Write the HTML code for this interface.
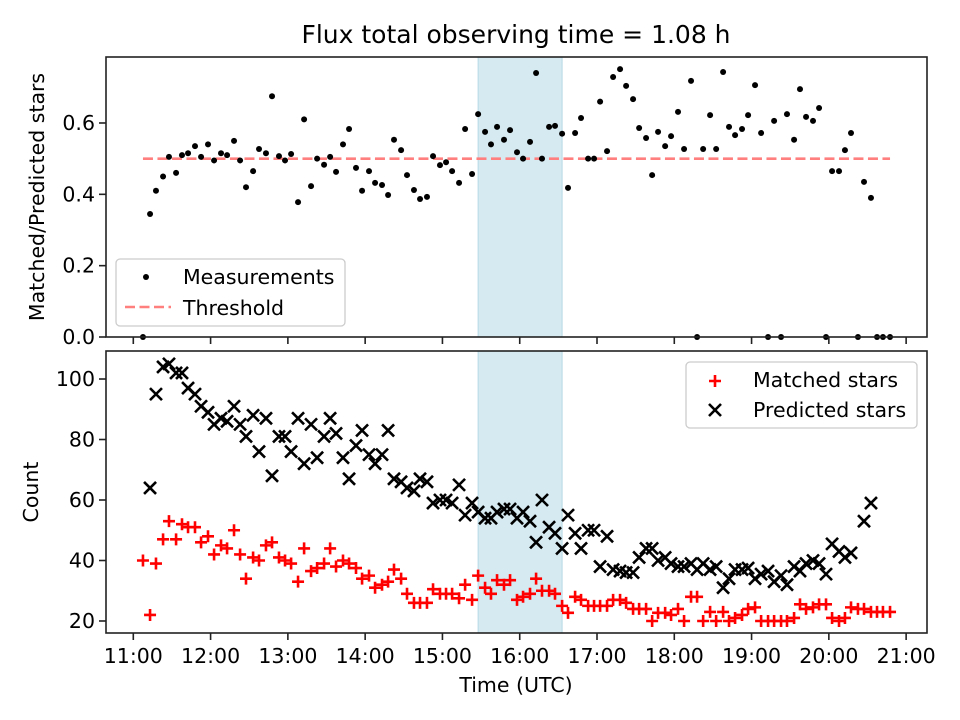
<!DOCTYPE html>
<html><head><meta charset="utf-8"><style>
body{margin:0;background:#fff}
svg{display:block;font-family:"DejaVu Sans","Liberation Sans",sans-serif}
</style></head><body>
<svg id="fig" width="960" height="720" viewBox="0 0 960 720">
<rect width="960" height="720" fill="#fff"/>
<text x="516" y="43" font-size="25" text-anchor="middle">Flux total observing time = 1.08 h</text>
<g id="topPanel"></g>
<g id="botPanel"></g>
<text x="516" y="692" font-size="20.5" text-anchor="middle">Time (UTC)</text>
<text transform="translate(44,197) rotate(-90)" font-size="20.5" text-anchor="middle">Matched/Predicted stars</text>
<text transform="translate(38,492) rotate(-90)" font-size="20.5" text-anchor="middle">Count</text>
</svg>
<script>
// minutes after 11:00 UTC
const times=[7.5,13.0,17.6,23.1,27.7,33.2,37.8,42.5,47.9,52.6,58.0,62.7,68.1,72.8,78.2,82.9,87.5,93.0,97.6,103.0,107.7,113.1,117.8,122.5,127.9,132.6,138.0,142.7,148.1,152.8,157.4,162.8,167.5,172.9,177.6,183.0,187.7,193.1,197.8,202.4,207.9,212.5,217.9,222.6,228.0,232.7,238.1,242.8,247.5,252.9,257.6,263.0,267.7,273.1,277.7,282.4,287.8,292.5,297.9,302.6,308.0,312.7,317.3,322.8,327.4,332.9,337.5,343.0,347.6,353.1,357.7,362.4,367.8,372.5,377.9,382.6,388.0,392.7,398.1,402.8,407.4,412.9,417.5,422.9,427.6,433.0,437.7,442.4,447.8,452.5,457.9,462.5,467.2,472.6,477.3,482.7,487.4,492.8,497.5,502.9,507.5,513.0,517.6,522.3,527.7,532.4,537.8,542.5,547.9,552.5,557.2,562.6,567.3,572.7,577.4,582.0,587.5];
const ratio=[0,.345,.41,.45,.505,.46,.51,.515,.535,.505,.54,.495,.515,.51,.55,.495,.42,.465,.527,.515,.675,.507,.495,.513,.378,.61,.423,.5,.483,.505,.463,.54,.583,.474,.41,.465,.432,.426,.398,.553,.524,.454,.412,.387,.393,.507,.482,.49,.465,.432,.583,.457,.625,.575,.54,.589,.553,.58,.518,.5,.547,.74,.5,.589,.592,.57,.418,.572,.614,.5,.5,.66,.521,.729,.751,.704,.667,.586,.558,.454,.575,.535,.563,.631,.527,.718,0,.527,.622,.527,.743,.589,.566,.583,.622,.706,.572,0,.606,0,.625,.553,.695,.617,.606,.642,0,.465,.465,.524,.572,0,.435,.39,0,0,0];
const matched=[40,22,39,47,53,47,52,51,51,46,48,42,45,44,50,42,34,41,40,45,46,41,40,39,33,44,36.5,37.5,39,44,38,40,39,37.5,34,35,31,32,33,37,34,29,26,26,26,30.5,29,29,29,27.5,32,27,35,31,29,33.5,32,33.5,27,28,29,34,30,30,29,25,22.7,28,27,25,25,25,25,27,27,26,24,24,24,20,22.7,22.7,22,24,20,28,28,20,23,20,23,20,21,22,24,24.5,20,20,20,20,20,21,25.5,24,24.5,25.5,25.5,21,20,21,24.5,24,24,23,23,23,23];
const predicted=[null,64,95,104,105,102,102,97,95,91,89,85,87,86,91,85,81,88,76,87,68,81,81,76,87,72,85,74,81,87,82,74,67,78,83,75,72,75,83,67,66,64,63,67,66,59,60,60,59,65,55,59,56,54,54,56,57,57,54,56,53,46,60,51,49,44,55,49,44,50,50,38,48,37,36.5,36,36,41,44,44,40,41,39,38,38,39,37,39,37,38,31,34,37,37,37.5,34,35.5,36.5,33,35,32,38,36.5,39,40,39,35.5,45.5,43,41,42.5,null,53,59,null,null,null];
const threshold=0.5;
const spanStart=267.7, spanEnd=332.9;
const xTickLabels=["11:00","12:00","13:00","14:00","15:00","16:00","17:00","18:00","19:00","20:00","21:00"];
const topTicks=[0,0.2,0.4,0.6];
const botTicks=[20,40,60,80,100];

const NS="http://www.w3.org/2000/svg";
const L=106,R=927;
const xMin=-21.2,xMax=616.2;
const X=m=>L+(m-xMin)/(xMax-xMin)*(R-L);
const T0=57,T1=337,B0=351,B1=633;
const YT=v=>T1-(v-0)/(0.785-0)*(T1-T0);
const YB=v=>B1-(v-16.03)/(109.26-16.03)*(B1-B0);
function mk(p,tag,a){const e=document.createElementNS(NS,tag);for(const k in a)e.setAttribute(k,a[k]);p.appendChild(e);return e;}
const topG=document.getElementById('topPanel'),botG=document.getElementById('botPanel');
const FS=20.5;

[[topG,T0,T1],[botG,B0,B1]].forEach(([g,y0,y1])=>{
 const r=mk(g,'rect',{x:X(spanStart),y:y0,width:X(spanEnd)-X(spanStart),height:y1-y0,fill:'#d5eaf1',stroke:'#b7d9e5','stroke-width':1});
 
 
});
const th=mk(topG,'line',{x1:X(times[0]),x2:X(times[times.length-1]),y1:YT(threshold),y2:YT(threshold),stroke:'#ff7f7f','stroke-width':2.6,'stroke-dasharray':'10,4.5'});


times.forEach((t,i)=>{
 const c=mk(topG,'circle',{cx:X(t),cy:YT(ratio[i]),r:3,fill:'#000'});
 
 
});
function plus(g,x,y){return mk(g,'path',{d:`M${x-6},${y}H${x+6}M${x},${y-6}V${y+6}`,stroke:'#f00','stroke-width':2.6});}
function cross(g,x,y){return mk(g,'path',{d:`M${x-6},${y-6}L${x+6},${y+6}M${x-6},${y+6}L${x+6},${y-6}`,stroke:'#000','stroke-width':2.6});}
times.forEach((t,i)=>{
 if(matched[i]==null)return;
 const p=plus(botG,X(t),YB(matched[i]));
 
 
});
times.forEach((t,i)=>{
 if(predicted[i]==null)return;
 const p=cross(botG,X(t),YB(predicted[i]));
 
 
});
[[topG,T0,T1],[botG,B0,B1]].forEach(([g,y0,y1])=>{
 const f=mk(g,'rect',{x:L,y:y0,width:R-L,height:y1-y0,fill:'none',stroke:'#222','stroke-width':1.6});
 
 
 xTickLabels.forEach((lab,i)=>{
  const x=X(i*60);
  const tk=mk(g,'line',{x1:x,x2:x,y1:y1,y2:y1+7,stroke:'#222','stroke-width':1.6});
  
  
  if(g===botG){const tx=mk(g,'text',{x:x,y:y1+30,'font-size':FS,'text-anchor':'middle'});tx.textContent=lab;
   
   }
 });
});
topTicks.forEach(v=>{
 const y=YT(v);
 const tk=mk(topG,'line',{x1:L-7,x2:L,y1:y,y2:y,stroke:'#222','stroke-width':1.6});
 
 
 const tx=mk(topG,'text',{x:L-11,y:y+7,'font-size':FS,'text-anchor':'end'});tx.textContent=v.toFixed(1);
 
 
});
botTicks.forEach(v=>{
 const y=YB(v);
 const tk=mk(botG,'line',{x1:L-7,x2:L,y1:y,y2:y,stroke:'#222','stroke-width':1.6});
 
 
 const tx=mk(botG,'text',{x:L-11,y:y+7,'font-size':FS,'text-anchor':'end'});tx.textContent=String(v);
 
 
});
const lg1=mk(topG,'g',{});


mk(lg1,'rect',{x:116,y:259,width:229,height:67,rx:4,fill:'#fff','fill-opacity':0.85,stroke:'#ccc','stroke-width':1.3});
mk(lg1,'circle',{cx:146,cy:277,r:3,fill:'#000'});
const t1=mk(lg1,'text',{x:183,y:284,'font-size':FS});t1.textContent='Measurements';


mk(lg1,'line',{x1:125,x2:171,y1:307,y2:307,stroke:'#ff7f7f','stroke-width':2.6,'stroke-dasharray':'10,4.5'});
const t2=mk(lg1,'text',{x:183,y:315,'font-size':FS});t2.textContent='Threshold';


const lg2=mk(botG,'g',{});


mk(lg2,'rect',{x:686,y:362,width:231,height:66,rx:4,fill:'#fff','fill-opacity':0.85,stroke:'#ccc','stroke-width':1.3});
plus(lg2,715,381);
const t3=mk(lg2,'text',{x:753,y:387,'font-size':FS});t3.textContent='Matched stars';


cross(lg2,715,410);
const t4=mk(lg2,'text',{x:753,y:417,'font-size':FS});t4.textContent='Predicted stars';


</script>
</body></html>
